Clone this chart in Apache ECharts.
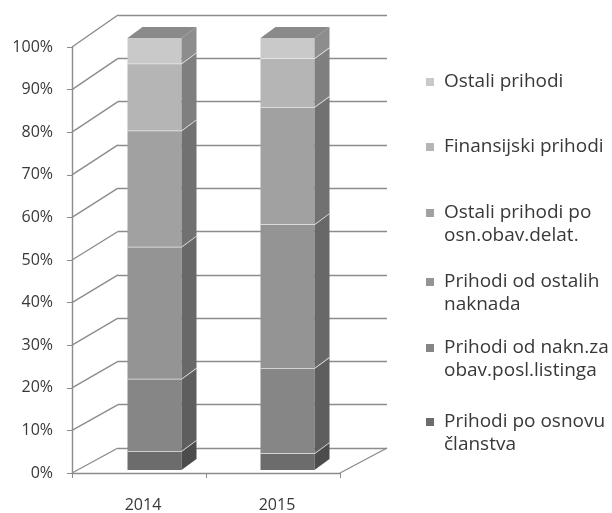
<!DOCTYPE html>
<html>
<head>
<meta charset="utf-8">
<script src="https://cdn.jsdelivr.net/npm/echarts@6/dist/echarts.min.js"></script>
<style>
  html, body { margin: 0; padding: 0; background: #fff; }
  #main { width: 612px; height: 513px; }
</style>
</head>
<body>
<div id="main"></div>
<script>
// data, bottom segment first
const years = ['2014', '2015'];
const seriesNames = [
  'Prihodi po osnovu članstva',
  'Prihodi od nakn.za obav.posl.listinga',
  'Prihodi od ostalih naknada',
  'Ostali prihodi po osn.obav.delat.',
  'Finansijski prihodi',
  'Ostali prihodi'
];
const legendLabels = [
  'Prihodi po osnovu\nčlanstva',
  'Prihodi od nakn.za\nobav.posl.listinga',
  'Prihodi od ostalih\nnaknada',
  'Ostali prihodi po\nosn.obav.delat.',
  'Finansijski prihodi',
  'Ostali prihodi'
];
const clanstvo = [4.4, 3.9];
const listing = [16.7, 19.7];
const ostaleNaknade = [30.6, 33.3];
const osnDelat = [26.9, 27.1];
const finansijski = [15.5, 11.3];
const ostali = [5.9, 4.7];
const yTicks = [0, 10, 20, 30, 40, 50, 60, 70, 80, 90, 100];

const values = [clanstvo, listing, ostaleNaknade, osnDelat, finansijski, ostali];

// look
const FRONT = { left: 72, top: 47, width: 268, height: 428 };
const BACK = { left: 118, top: 15, width: 269, height: 433 };
const BARS = { left: 88, top: 38, width: 266, height: 432 };
const BAR_W = 54, DX = 15, DY = -11;
const colors = ['#6c6c6c', '#868686', '#949494', '#a1a1a1', '#b5b5b5', '#c9c9c9'];
const topColor = '#8a8a8a';
const lineColor = '#8c8c8c';
const textColor = '#383838';
const font = 'Open Sans';
// first text line centre of each legend item (bottom series first)
const legendY = [422, 348, 282, 213, 147, 82];
const LH = 23;
// square on top, invisible point below: keeps the marker on the first text line
const twoLineIcon = 'path://M0,0h8v8h-8zM0,31h0.01';

function shade(hex, k) {
  const n = parseInt(hex.slice(1), 16);
  const r = Math.round(((n >> 16) & 255) * k), g = Math.round(((n >> 8) & 255) * k), b = Math.round((n & 255) * k);
  return 'rgb(' + r + ',' + g + ',' + b + ')';
}

const myChart = echarts.init(document.getElementById('main'));

function barItem(params, api) {
  const cat = api.value(0);
  const p0 = api.coord([cat, api.value(1)]);
  const p1 = api.coord([cat, api.value(2)]);
  const s = api.value(3);
  const isTop = s === seriesNames.length - 1;
  const L = p0[0] - BAR_W / 2, R = p0[0] + BAR_W / 2;
  const y0 = p0[1], y1 = p1[1];
  const c = colors[s];
  const children = [
    { type: 'rect', shape: { x: L, y: y1, width: BAR_W, height: y0 - y1 }, style: { fill: c } },
    { type: 'polygon', shape: { points: [[R, y1], [R + DX, y1 + DY], [R + DX, y0 + DY], [R, y0]] },
      style: { fill: shade(c, 0.7) } }
  ];
  if (isTop) {
    children.push({ type: 'polygon', shape: { points: [[L, y1], [L + DX, y1 + DY], [R + DX, y1 + DY], [R, y1]] },
      style: { fill: topColor } });
  } else {
    children.push({ type: 'polyline', shape: { points: [[L, y1], [R, y1], [R + DX, y1 + DY]] },
      style: { stroke: '#ececec', lineWidth: 1.5, fill: null } });
  }
  return { type: 'group', children: children };
}

function diagItem(params, api) {
  const v = api.value(1);
  const yf = api.coord([0, v])[1];
  const yb = BACK.top + BACK.height * (1 - v / 100);
  const st = { stroke: lineColor, lineWidth: 1.4 };
  const children = [{ type: 'line', shape: { x1: FRONT.left, y1: yf, x2: BACK.left, y2: yb }, style: st }];
  if (v === 0) {
    children.push({ type: 'line', shape: { x1: FRONT.left + FRONT.width, y1: yf, x2: BACK.left + BACK.width, y2: yb }, style: st });
  }
  return { type: 'group', children: children };
}

const barSeries = seriesNames.map(function (name, s) {
  const data = years.map(function (y, i) {
    let base = 0;
    for (let k = 0; k < s; k++) base += values[k][i];
    return [i, base, base + values[s][i], s];
  });
  return {
    name: name,
    type: 'custom',
    xAxisIndex: 2,
    yAxisIndex: 2,
    renderItem: barItem,
    itemStyle: { color: colors[s] },
    data: data,
    z: 3
  };
});

const legends = seriesNames.map(function (name, s) {
  const twoLines = legendLabels[s].indexOf('\n') >= 0;
  return {
    orient: 'vertical',
    left: 426,
    top: legendY[s] - LH / 2,
    padding: 0,
    itemWidth: 8,
    itemHeight: twoLines ? 8 + LH : 8,
    icon: twoLines ? twoLineIcon : 'rect',
    data: [name],
    formatter: function () { return legendLabels[s]; },
    textStyle: {
      color: textColor, fontFamily: font, fontSize: 19, lineHeight: LH,
      padding: [0, 0, 0, 5]
    }
  };
});

const option = {
  backgroundColor: '#ffffff',
  animation: false,
  color: colors,
  legend: legends,
  grid: [
    { left: FRONT.left, top: FRONT.top, width: FRONT.width, height: FRONT.height },
    { left: BACK.left, top: BACK.top, width: BACK.width, height: BACK.height },
    { left: BARS.left, top: BARS.top, width: BARS.width, height: BARS.height }
  ],
  xAxis: [
    {
      gridIndex: 0, type: 'category', data: years,
      axisLine: { lineStyle: { color: lineColor, width: 1.4 } },
      axisTick: { show: true, length: 5, lineStyle: { color: lineColor } },
      axisLabel: { color: textColor, fontFamily: font, fontSize: 16, margin: 24, padding: [0, 0, 0, 8] }
    },
    { gridIndex: 1, type: 'category', data: years, show: false },
    { gridIndex: 2, type: 'category', data: years, show: false }
  ],
  yAxis: [
    {
      gridIndex: 0, type: 'value', min: 0, max: 100, interval: 10,
      axisLine: { show: true, lineStyle: { color: lineColor, width: 1.4 } },
      axisTick: { show: true, length: 5, lineStyle: { color: lineColor } },
      splitLine: { show: false },
      axisLabel: { color: textColor, fontFamily: font, fontSize: 16, margin: 19, padding: [8, 0, 0, 0],
        formatter: '{value}%' }
    },
    {
      gridIndex: 1, type: 'value', min: 0, max: 100, interval: 10,
      axisLine: { show: false }, axisTick: { show: false }, axisLabel: { show: false },
      splitLine: { show: true, lineStyle: { color: lineColor, width: 1.4 } }
    },
    { gridIndex: 2, type: 'value', min: 0, max: 100, show: false, splitLine: { show: false } }
  ],
  series: [{
    type: 'custom',
    xAxisIndex: 0,
    yAxisIndex: 0,
    silent: true,
    renderItem: diagItem,
    data: yTicks.map(function (v) { return [0, v]; }),
    z: 1
  }].concat(barSeries)
};

myChart.setOption(option);
</script>
</body>
</html>
